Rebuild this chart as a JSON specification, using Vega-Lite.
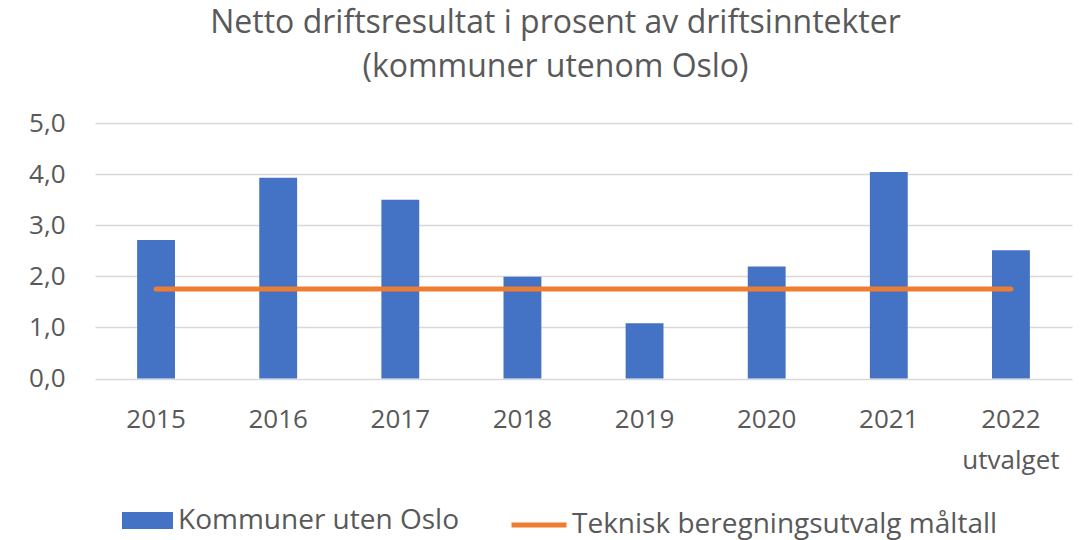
{
  "$schema": "https://vega.github.io/schema/vega-lite/v6.json",
  "width": 977,
  "height": 255.5,
  "autosize": {"type": "none"},
  "padding": {"left": 95, "top": 123, "right": 11, "bottom": 161},
  "background": "white",
  "title": {
    "text": "Netto driftsresultat i prosent av driftsinntekter",
    "subtitle": "(kommuner utenom Oslo)",
    "font": "Open Sans",
    "fontSize": 32,
    "fontWeight": "normal",
    "color": "#595959",
    "lineHeight": 32,
    "subtitleFont": "Open Sans",
    "subtitleFontSize": 32,
    "subtitleColor": "#595959",
    "subtitleLineHeight": 32,
    "subtitlePadding": 12,
    "anchor": "middle",
    "dx": -28,
    "offset": 26
  },
  "data": {
    "values": [
      {"year": "2015", "series": "Kommuner uten Oslo", "value": 2.71},
      {"year": "2016", "series": "Kommuner uten Oslo", "value": 3.93},
      {"year": "2017", "series": "Kommuner uten Oslo", "value": 3.5},
      {"year": "2018", "series": "Kommuner uten Oslo", "value": 1.99},
      {"year": "2019", "series": "Kommuner uten Oslo", "value": 1.08},
      {"year": "2020", "series": "Kommuner uten Oslo", "value": 2.19},
      {"year": "2021", "series": "Kommuner uten Oslo", "value": 4.04},
      {"year": "2022\nutvalget", "series": "Kommuner uten Oslo", "value": 2.51},
      {"year": "2015", "series": "Teknisk beregningsutvalg måltall", "value": 1.75},
      {"year": "2016", "series": "Teknisk beregningsutvalg måltall", "value": 1.75},
      {"year": "2017", "series": "Teknisk beregningsutvalg måltall", "value": 1.75},
      {"year": "2018", "series": "Teknisk beregningsutvalg måltall", "value": 1.75},
      {"year": "2019", "series": "Teknisk beregningsutvalg måltall", "value": 1.75},
      {"year": "2020", "series": "Teknisk beregningsutvalg måltall", "value": 1.75},
      {"year": "2021", "series": "Teknisk beregningsutvalg måltall", "value": 1.75},
      {"year": "2022\nutvalget", "series": "Teknisk beregningsutvalg måltall", "value": 1.75}
    ]
  },
  "encoding": {
    "x": {
      "field": "year",
      "type": "nominal",
      "sort": null,
      "scale": {"paddingInner": 0.69, "paddingOuter": 0.345},
      "axis": {
        "title": null,
        "labelAngle": 0,
        "domain": false,
        "ticks": false,
        "labelPadding": 28,
        "labelFont": "Open Sans",
        "labelFontSize": 26,
        "labelColor": "#595959",
        "labelLineHeight": 41,
        "labelExpr": "split(datum.label, '\\n')"
      }
    },
    "y": {
      "field": "value",
      "type": "quantitative",
      "scale": {"domain": [0, 5], "nice": false},
      "axis": {
        "title": null,
        "values": [0, 1, 2, 3, 4, 5],
        "domain": false,
        "ticks": false,
        "labelPadding": 30,
        "labelFont": "Open Sans",
        "labelFontSize": 26,
        "labelColor": "#595959",
        "labelExpr": "replace(format(datum.value, '.1f'), '.', ',')",
        "gridColor": "#d9d9d9",
        "gridWidth": 1.4
      }
    }
  },
  "layer": [
    {
      "transform": [{"filter": "datum.series === 'Kommuner uten Oslo'"}],
      "mark": {"type": "bar"},
      "encoding": {
        "fill": {
          "field": "series",
          "type": "nominal",
          "scale": {"domain": ["Kommuner uten Oslo"], "range": ["#4472C4"]},
          "legend": {
            "title": null,
            "orient": "none",
            "legendX": 27,
            "legendY": 372,
            "padding": 0,
            "symbolType": "M-1,-0.33H1V0.33H-1Z",
            "symbolSize": 2601,
            "symbolStrokeWidth": 0,
            "labelOffset": 5,
            "labelLimit": 0,
            "labelFont": "Open Sans",
            "labelFontSize": 28,
            "labelColor": "#595959"
          }
        }
      }
    },
    {
      "transform": [{"filter": "datum.series === 'Teknisk beregningsutvalg måltall'"}],
      "mark": {"type": "line", "strokeWidth": 5, "strokeCap": "round"},
      "encoding": {
        "stroke": {
          "field": "series",
          "type": "nominal",
          "scale": {"domain": ["Teknisk beregningsutvalg måltall"], "range": ["#ED7D31"]},
          "legend": {
            "title": null,
            "orient": "none",
            "legendX": 414,
            "legendY": 372,
            "padding": 0,
            "symbolType": "stroke",
            "symbolSize": 3025,
            "symbolStrokeWidth": 5,
            "labelOffset": 3,
            "labelLimit": 0,
            "labelFont": "Open Sans",
            "labelFontSize": 28,
            "labelColor": "#595959"
          }
        }
      }
    }
  ],
  "config": {
    "view": {"stroke": null}
  }
}
